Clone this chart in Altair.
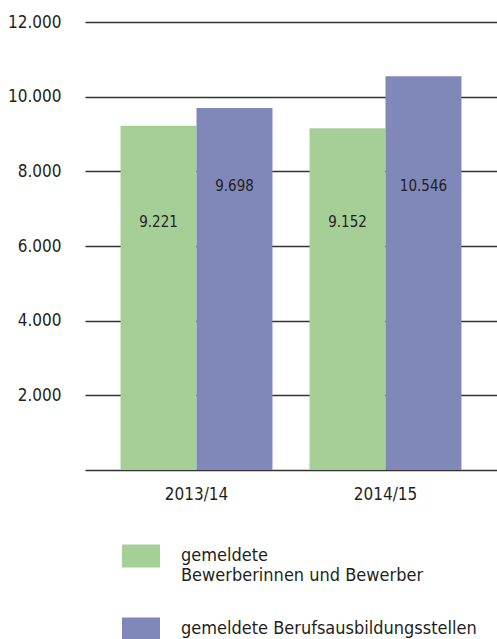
import altair as alt
import pandas as pd

years = ["2013/14", "2014/15"]
series = ["gemeldete Bewerberinnen und Bewerber", "gemeldete Berufsausbildungsstellen"]
bewerber = [9221, 9152]
stellen = [9698, 10546]
y_ticks = [0, 2000, 4000, 6000, 8000, 10000, 12000]

rows = []
for i, yr in enumerate(years):
    rows.append({"Jahr": yr, "Serie": series[0], "Wert": bewerber[i]})
    rows.append({"Jahr": yr, "Serie": series[1], "Wert": stellen[i]})
df = pd.DataFrame(rows)

FONT = "DejaVu Sans Condensed, Roboto, sans-serif"
TXT = "#231f20"
GREEN = "#a6cf98"
PURPLE = "#8088ba"

xscale = alt.Scale(paddingInner=0.196, paddingOuter=0.188)
offscale = alt.Scale(paddingInner=0, paddingOuter=0)
yscale = alt.Scale(domain=[0, 12000], nice=False)

x = alt.X("Jahr:N", sort=years, scale=xscale,
          axis=alt.Axis(title=None, labelAngle=0, ticks=False, domain=False,
                        labelPadding=16, labelFontSize=17, labelFont=FONT,
                        labelColor=TXT, grid=False))
xoff = alt.XOffset("Serie:N", sort=series, scale=offscale)

color = alt.Color("Serie:N", sort=series,
                  scale=alt.Scale(domain=series, range=[GREEN, PURPLE]),
                  legend=alt.Legend(
                      title=None, orient="none", legendX=37, legendY=515,
                      direction="vertical",
                      symbolType="M-1,-0.6L1,-0.6L1,0.6L-1,0.6Z",
                      symbolSize=1444, symbolStrokeWidth=0, symbolOpacity=1,
                      labelFont=FONT, labelFontSize=18, labelColor=TXT,
                      labelOffset=21, labelLimit=400, rowPadding=25, padding=0,
                      labelExpr="datum.label == 'gemeldete Bewerberinnen und Bewerber' ? ['gemeldete', 'Bewerberinnen und Bewerber'] : datum.label"))

bars = alt.Chart(df).mark_bar().encode(
    x=x, xOffset=xoff,
    y=alt.Y("Wert:Q", scale=yscale,
            axis=alt.Axis(title=None, values=y_ticks, grid=True, gridColor="#333333",
                          gridWidth=1.4, gridOpacity=1, ticks=False, domain=False,
                          labelPadding=24, labelFontSize=17, labelFont=FONT,
                          labelColor=TXT,
                          labelExpr="datum.value == 0 ? '' : replace(format(datum.value, ',d'), ',', '.')")),
    color=color,
)

labels = alt.Chart(df).transform_calculate(
    pos=f"datum.Serie == '{series[0]}' ? 6650 : 7600",
    txt="replace(format(datum.Wert, ',d'), ',', '.')",
).mark_text(font=FONT, fontSize=15, color=TXT, baseline="middle").encode(
    x=alt.X("Jahr:N", sort=years),
    xOffset=xoff,
    y=alt.Y("pos:Q"),
    text="txt:N",
)

chart = alt.layer(bars, labels).properties(
    width=412, height=448,
    background="white",
    autosize=alt.AutoSizeParams(type="none"),
    padding={"left": 85, "top": 22, "right": 0, "bottom": 169},
).configure_view(stroke=None)

chart.save("out.html", embed_options={"renderer": "svg", "actions": False})
